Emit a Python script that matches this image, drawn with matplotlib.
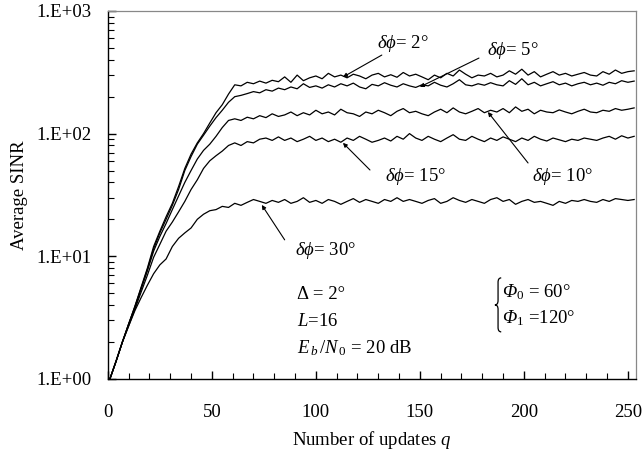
import numpy as np
import matplotlib
matplotlib.use("Agg")
import matplotlib.pyplot as plt
from matplotlib.ticker import FixedLocator, FuncFormatter, MultipleLocator, LogLocator
from matplotlib.path import Path
from matplotlib.patches import PathPatch

plt.rcParams['font.family'] = ['Liberation Serif', 'DejaVu Serif']
plt.rcParams['mathtext.fontset'] = 'custom'
plt.rcParams['mathtext.rm'] = 'Liberation Serif'
plt.rcParams['mathtext.it'] = 'Liberation Serif:italic'
plt.rcParams['mathtext.bf'] = 'Liberation Serif:bold'
plt.rcParams['mathtext.sf'] = 'Liberation Serif:italic'

# ---- data ----
q = np.arange(1, 254, 3)

sinr_2 = [1.0, 1.4, 2.0, 2.8, 3.9, 5.6, 8.0, 12, 16, 21,
          27, 37, 52, 68, 84, 100, 122, 148, 172, 210,
          250, 245, 262, 255, 268, 258, 272, 265, 290, 262,
          300, 270, 285, 295, 280, 310, 290, 300, 285, 305,
          295, 280, 300, 310, 290, 302, 288, 315, 295, 305,
          290, 275, 300, 285, 310, 295, 330, 305, 285, 300,
          295, 310, 290, 300, 325, 305, 335, 300, 320, 290,
          305, 320, 300, 310, 295, 305, 315, 300, 295, 320,
          305, 330, 310, 320, 325]

sinr_5 = [1.0, 1.4, 2.0, 2.8, 3.9, 5.5, 7.8, 11.5, 15.5, 20,
          26, 35, 50, 65, 82, 97, 115, 135, 155, 180,
          200, 205, 212, 220, 215, 228, 222, 235, 228, 240,
          232, 255, 238, 245, 235, 250, 240, 255, 245, 258,
          240, 232, 252, 245, 260, 248, 240, 255, 245, 238,
          250, 245, 262, 248, 240, 255, 275, 250, 245, 255,
          248, 260, 250, 245, 270, 252, 280, 250, 262, 245,
          255, 265, 250, 258, 245, 255, 262, 250, 258, 248,
          262, 255, 270, 262, 268]

sinr_10 = [1.0, 1.4, 2.0, 2.8, 3.8, 5.4, 7.6, 11, 14.5, 18.5,
           24, 31, 40, 50, 62, 73, 82, 95, 112, 128,
           132, 128, 136, 132, 140, 135, 145, 138, 142, 150,
           140, 148, 142, 155, 145, 150, 142, 158, 148, 145,
           138, 150, 145, 155, 148, 140, 152, 160, 148, 152,
           145, 140, 150, 158, 148, 162, 150, 145, 152, 160,
           148, 155, 150, 160, 148, 165, 152, 158, 145, 155,
           150, 148, 156, 150, 145, 152, 158, 150, 148, 155,
           152, 160, 155, 158, 162]

sinr_15 = [1.0, 1.4, 2.0, 2.7, 3.7, 5.1, 7.0, 9.8, 12.5, 16,
           19, 23, 28, 35, 42, 52, 60, 66, 72, 80,
           84, 80, 86, 84, 90, 92, 88, 94, 88, 92,
           86, 90, 95, 88, 92, 86, 90, 85, 92, 88,
           95, 90, 85, 88, 92, 87, 95, 90, 100, 92,
           88, 95, 90, 86, 92, 98, 90, 88, 95, 90,
           86, 92, 88, 94, 90, 86, 92, 88, 95, 90,
           87, 92, 89, 86, 90, 88, 92, 90, 88, 92,
           95, 90, 96, 92, 95]

sinr_30 = [1.0, 1.4, 2.0, 2.7, 3.6, 4.6, 5.8, 7.2, 8.5, 9.5,
           12, 14, 15.5, 17, 20, 22, 23.5, 24, 25.5, 25,
           27, 26, 27.5, 29, 28, 27, 28.5, 27.5, 29, 27,
           28, 30, 27.5, 28.5, 27, 29, 28, 26.5, 28, 29.5,
           27.5, 29, 28, 27, 29, 28, 30, 28, 29, 28,
           27, 28.5, 29.5, 27, 28, 30, 28.5, 27.5, 29, 28,
           27, 29, 30, 28, 29, 26.5, 28, 29, 27.5, 28,
           27, 26, 28, 27, 28.5, 28, 29, 28, 27.5, 29,
           28, 29.5, 29, 28.5, 29]

series = [sinr_2, sinr_5, sinr_10, sinr_15, sinr_30]
labels = [r"$\delta\phi$= 2°", r"$\delta\phi$= 5°", r"$\delta\phi$= 10°",
          r"$\delta\phi$= 15°", r"$\delta\phi$= 30°"]
yticks = [1, 10, 100, 1000]
ytick_labels = ["1.E+00", "1.E+01", "1.E+02", "1.E+03"]

# ---- figure ----
fig = plt.figure(figsize=(6.42, 4.57), dpi=100)
ax = fig.add_axes([0.168, 0.171, 0.823, 0.805])

for s in series:
    ax.plot(q, s, color='black', lw=0.9)

ax.set_yscale('log')
ax.set_xlim(0, 254)
ax.set_ylim(1, 1000)

FS = 13.5
ax.yaxis.set_major_locator(FixedLocator(yticks))
ax.yaxis.set_major_formatter(FuncFormatter(lambda v, p: ytick_labels[yticks.index(int(round(v)))] if int(round(v)) in yticks else ""))
ax.yaxis.set_minor_locator(LogLocator(base=10, subs=np.arange(2, 10)))
ax.yaxis.set_minor_formatter(FuncFormatter(lambda v, p: ""))
ax.xaxis.set_major_locator(MultipleLocator(50))
ax.xaxis.set_minor_locator(MultipleLocator(10))

ax.tick_params(axis='both', which='major', direction='in', length=6, width=1.0,
               labelsize=FS, colors='black', top=False, right=False)
ax.tick_params(axis='both', which='minor', direction='in', length=4, width=0.8,
               top=False, right=False)
ax.tick_params(axis='x', which='major', pad=18)
ax.tick_params(axis='y', which='major', pad=12)

for side in ['left', 'bottom']:
    ax.spines[side].set_color('black')
    ax.spines[side].set_linewidth(1.0)
for side in ['top', 'right']:
    ax.spines[side].set_color('#888888')
    ax.spines[side].set_linewidth(0.9)

ax.set_xlabel(r"Number of updates $q$", fontsize=FS, labelpad=6)
ax.set_ylabel("Average SINR", fontsize=FS, labelpad=6)

# annotations: (text pos, arrow tail, arrow tip)
ann = [
    (labels[0], (129.3, 547), (131.7, 437), (113, 289)),
    (labels[1], (182.2, 480), (178.4, 413), (150, 240)),
    (labels[2], (203.8, 44.3), (202, 57.6), (182.7, 150)),
    (labels[3], (133, 44.3), (126, 50.5), (113, 84)),
    (labels[4], (90, 11.2), (85, 13.6), (74, 26.2)),
]
for txt, tpos, tail, tip in ann:
    ax.annotate("", xy=tip, xytext=tail,
                arrowprops=dict(arrowstyle='-|>', color='black', lw=0.8,
                                mutation_scale=6, shrinkA=0, shrinkB=0))
    ax.text(tpos[0], tpos[1], txt, fontsize=FS, ha='left', va='center')

ax.text(90.9, 4.84, "Δ = 2°", fontsize=FS, ha='left', va='center')
ax.text(90.9, 2.91, r"$L$=16", fontsize=FS, ha='left', va='center')
ax.text(90.9, 1.79, r"$E_{\,b}\,/N_{\,0}$ = 20 dB", fontsize=FS, ha='left', va='center')

# curly brace (decoration) in axes-fraction coords
xl, xm, xr = 0.7325, 0.7385, 0.7445
yt, ymid, yb = 0.2745, 0.201, 0.1277
d = 0.012
verts = [(xr, yt), (xm, yt), (xm, yt - d),
         (xm, ymid + d),
         (xm, ymid), (xl, ymid),
         (xm, ymid), (xm, ymid - d),
         (xm, yb + d),
         (xm, yb), (xr, yb)]
codes = [Path.MOVETO, Path.CURVE3, Path.CURVE3,
         Path.LINETO,
         Path.CURVE3, Path.CURVE3,
         Path.CURVE3, Path.CURVE3,
         Path.LINETO,
         Path.CURVE3, Path.CURVE3]
ax.add_patch(PathPatch(Path(verts, codes), transform=ax.transAxes,
                       fill=False, edgecolor='black', lw=0.9))

ax.text(189.4, 5.12, r"$\mathsf{\Phi}_0$ = 60°", fontsize=FS, ha='left', va='center')
ax.text(189.4, 3.14, r"$\mathsf{\Phi}_1$ =120°", fontsize=FS, ha='left', va='center')

fig.savefig("out.png", dpi=100)
